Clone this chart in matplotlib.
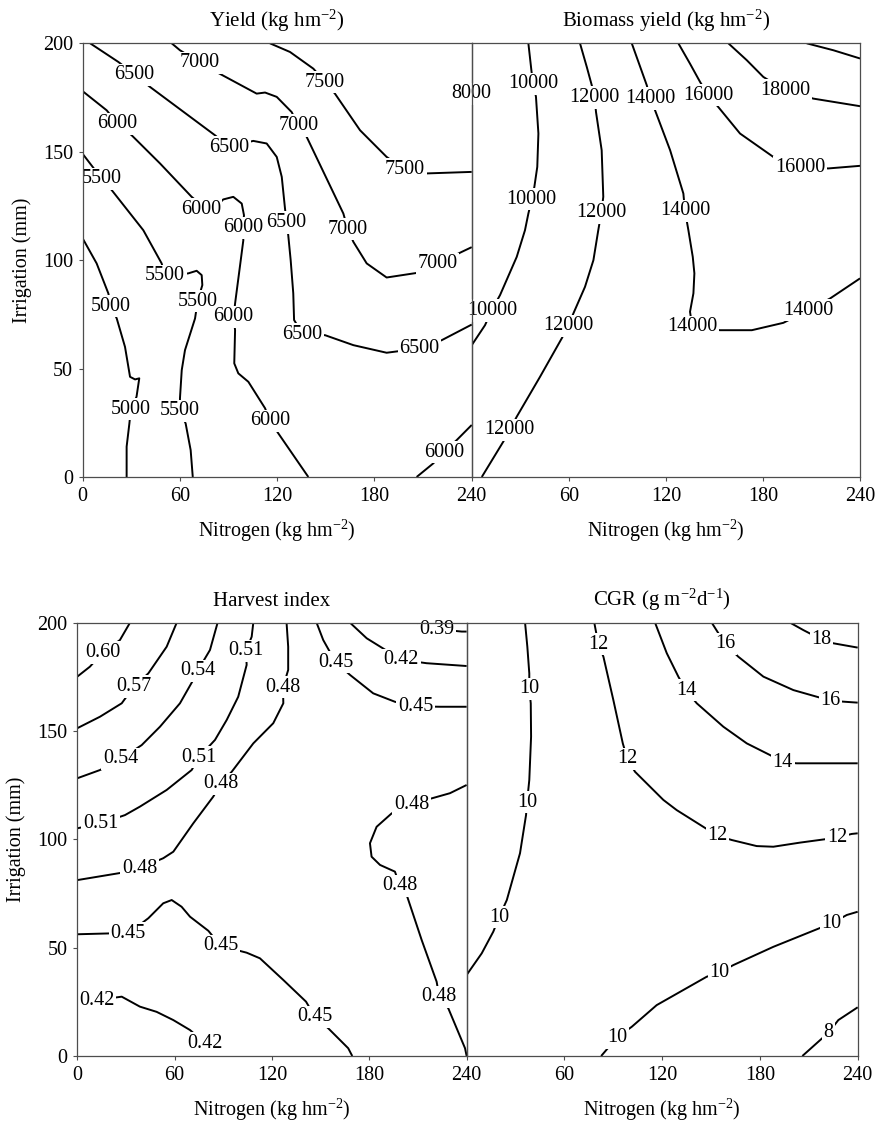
import matplotlib
matplotlib.use("Agg")
import matplotlib.pyplot as plt

plt.rcParams["font.family"] = ["Liberation Serif", "DejaVu Serif"]
plt.rcParams["mathtext.fontset"] = "custom"
plt.rcParams["mathtext.rm"] = "Liberation Serif"
plt.rcParams["mathtext.it"] = "Liberation Serif:italic"
plt.rcParams["mathtext.bf"] = "Liberation Serif:bold"

# contour lines: (level, nitrogen kg/hm2, irrigation mm)
YIELD_LINES = [
    (6500, [4.6, 22, 31.9, 41.5, 81.6, 90.4, 105.2, 113.5, 119.7, 122.8, 124.8, 125.8, 126.8, 128.3, 129.9, 130.4,
            135.7, 149.5, 167.0, 187.5, 208.0, 221.5, 240],
           [200, 191.4, 185.7, 179.9, 157.6, 152.2, 155.0, 153.8, 147.6, 138.4, 123.8, 117.4, 111.5, 100, 84.7, 72.4,
            65.9, 65.4, 60.8, 57.3, 59.3, 63.1, 70.3]),
    (7000, [54.9, 60, 72.4, 83.7, 107.3, 112.5, 119.7, 128.9, 133.0, 138.2, 160.8, 163.5, 167.0, 175.2, 187.5,
            206.0, 219.4, 233.8, 240],
           [200, 196.8, 191.1, 186.3, 176.8, 177.3, 175.3, 168.3, 162.2, 156.8, 121.5, 114.3, 108.4, 98.5, 92.0,
            94.1, 98.5, 103.8, 106]),
    (7500, [115.5, 127.9, 142.3, 149.5, 155.6, 171.1, 187.5, 198.8, 212.2, 240],
           [200, 196.0, 188.3, 182.2, 176.8, 159.9, 147.6, 141.8, 140.0, 140.7]),
    (6000, [0, 14.8, 21.4, 30.2, 47.7, 67.2, 74, 84, 86.7, 92.9, 98.1, 99.5, 98.7, 99.1, 97.5, 94.0, 93.1, 94.0,
            93.5, 96.0, 102.2, 112.5, 115.5, 120.7, 139.2],
           [177.9, 169.1, 163.0, 157.6, 144.6, 129.2, 125, 126, 128.0, 129.2, 126.1, 120.7, 115.0, 109.2, 100, 80,
            73.8, 67.7, 52.4, 47.8, 43.9, 31.7, 25.9, 20.1, 0]),
    (6000, [206.0, 216.3, 222.7, 230.7, 240], [0, 6.3, 11.5, 17.0, 24.0]),
    (5500, [0, 11.7, 17.9, 37.4, 48.7, 50.8, 65.1, 70.3, 73.4, 73.8, 70.9, 69.3, 63.1, 61.1, 60.0, 60.0, 63.5,
            66.6, 67.9],
           [149.0, 137.6, 132.3, 113.8, 98.5, 92.8, 93.9, 95.1, 93.1, 88.5, 81.1, 73.1, 58.5, 49.3, 36.3, 30.6, 24.7,
            12.4, 0]),
    (5000, [0, 8.6, 15.8, 17.5, 21.0, 26.1, 29.2, 32.3, 34.9, 33.2, 29.7, 28.8, 27.1, 27.1],
           [110, 98.5, 84.7, 78.8, 73.1, 60.0, 46.2, 45.0, 45.5, 37.0, 31.2, 24.7, 14.0, 0]),
]
YIELD_LABELS = [
    ("6500", 31.9, 185.5), ("6500", 90.4, 152.0), ("6500", 125.8, 117.4), ("6500", 135.6, 65.9),
    ("6500", 207.7, 59.2), ("7000", 72.4, 191.1), ("7000", 133.1, 162.1), ("7000", 163.5, 114.3),
    ("7000", 219.0, 98.4), ("7500", 149.4, 182.1), ("7500", 198.8, 141.8), ("6000", 21.5, 162.9),
    ("6000", 72.8, 123.5), ("6000", 98.7, 115.0), ("6000", 93.1, 73.8), ("6000", 115.5, 25.9),
    ("6000", 222.7, 11.5), ("5500", 11.7, 137.6), ("5500", 50.8, 92.8), ("5500", 70.9, 81.1),
    ("5500", 60.0, 30.6), ("5000", 17.5, 78.8), ("5000", 29.7, 31.2),
]

BIOMASS_LINES = [
    (8000, [0.3, 0.3], [192, 162]),
    (10000, [35.0, 37.1, 38.1, 39.7, 41.2, 40.5, 38.7, 37.1, 35.0, 32.9, 27.8, 17.5, 12.4, 8.2, 0],
            [200, 186.0, 181.4, 175.3, 158.4, 143.0, 133.8, 128.1, 121.5, 113.8, 101.5, 83.9, 77.0, 70.0, 60.8]),
    (12000, [66.9, 71.1, 74.2, 75.9, 76.8, 80.3, 81.3, 80.1, 78.2, 75.2, 70.0, 62.8, 59.7, 55.6, 42.2, 27.8, 23.5,
             19.5, 6.2],
            [200, 189.1, 180.6, 175.0, 168.3, 150.7, 129.2, 122.0, 113.8, 100, 87.7, 75.4, 69.7, 63.9, 46.2, 27.8,
             21.7, 16.3, 0]),
    (14000, [98.9, 108.2, 110.2, 113.3, 122.6, 130.8, 131.8, 133.9, 136.6, 137.6, 137.0, 134.9, 136.3, 153.5,
             173.1, 192.6, 208.0, 221.4, 240],
            [200, 180.6, 174.5, 169.1, 150.7, 130.7, 122.7, 113.8, 101.5, 93.9, 84.7, 76.2, 69.3, 67.7, 67.7, 71.1,
             77.0, 82.3, 91.6]),
    (16000, [127.7, 134.9, 141.1, 146.2, 152.4, 165.8, 186.4, 202.9, 220.4, 240],
            [200, 190.6, 182.2, 176.0, 170.6, 158.4, 147.6, 142.7, 142.3, 143.5]),
    (18000, [158.6, 170.0, 180.2, 193.6, 211.1, 240], [200, 192.2, 184.5, 178.3, 174.5, 171.0]),
    (20000, [207.0, 223.5, 240], [200, 196.8, 193.0]),
]
BIOMASS_LABELS = [
    ("8000", 0, 176.8), ("10000", 38.1, 181.4), ("10000", 37.1, 128.1), ("10000", 12.4, 76.8),
    ("12000", 75.9, 175.0), ("12000", 80.1, 122.0), ("12000", 59.7, 69.7), ("12000", 23.5, 21.7),
    ("14000", 110.2, 174.5), ("14000", 131.8, 122.7), ("14000", 136.3, 69.3), ("14000", 208.0, 77.0),
    ("16000", 146.2, 176.0), ("16000", 202.9, 142.7), ("18000", 193.6, 178.3),
]

HI_LINES = [
    (0.60, [32.5, 26.3, 15.6, 7.8, 0], [200, 192.0, 186.2, 179.7, 175.1]),
    (0.57, [61.3, 55.1, 43.8, 34.9, 27.4, 14.0, 0], [200, 188.9, 176.6, 170.5, 162.8, 156.6, 151.3]),
    (0.54, [86.5, 81.8, 74.2, 71.5, 63.3, 51.0, 39.7, 26.7, 14.0, 0],
           [200, 187.4, 177.8, 173.6, 162.8, 152.0, 143.5, 137.1, 132.0, 128.2]),
    (0.51, [108.5, 107.5, 104.0, 104.4, 99.2, 92.1, 84.9, 75.0, 70.5, 55.1, 38.6, 29.4, 14.4, 0],
           [200, 193.5, 187.1, 180.5, 165.8, 155.1, 145.9, 137.9, 132.0, 122.8, 115.1, 111.2, 107.4, 105.1]),
    (0.48, [129.0, 130.0, 130.0, 126.8, 127.0, 120.8, 108.5, 95.2, 88.4, 83.8, 71.5, 59.2, 53.0, 38.4, 27.4, 0],
           [200, 188.9, 178.2, 170.2, 162.8, 153.6, 144.3, 131.2, 125.6, 119.7, 107.4, 94.3, 91.3, 86.6, 84.6,
            81.2]),
    (0.48, [240, 229.7, 206.1, 193.8, 184.5, 180.4, 181.4, 186.6, 195.8, 198.9, 203.4, 212.3, 221.5, 223.1, 228.7,
            239.0, 240],
           [125.1, 121.3, 116.3, 112.0, 105.8, 98.2, 92.0, 88.2, 85.1, 78.5, 73.5, 53.5, 34.3, 27.4, 22.0, 3.6, 0]),
    (0.45, [147.5, 151.6, 159.3, 168.1, 182.4, 195.8, 208.6, 223.6, 240],
           [200, 192.0, 181.7, 175.9, 167.4, 163.5, 161.4, 161.2, 161.2]),
    (0.42, [168.1, 178.4, 199.7, 215.3, 240], [200, 192.8, 182.9, 181.3, 180.0]),
    (0.39, [209.2, 221.9, 237.0, 240], [200, 197.0, 195.9, 195.9]),
    (0.45, [0, 20.2, 31.5, 43.8, 53.0, 58.2, 64.3, 69.5, 80.8, 88.4, 104.4, 112.6, 127.0, 141.0, 146.5, 154.7,
            167.0, 169.5],
           [56.2, 56.6, 56.6, 63.6, 70.5, 72.0, 68.9, 64.3, 57.8, 50.8, 47.7, 45.1, 35.1, 25.1, 18.1, 12.8, 3.6, 0]),
    (0.42, [0, 11.9, 27.4, 38.6, 48.9, 59.2, 69.5, 78.7], [27.0, 25.8, 27.4, 22.8, 20.4, 16.6, 12.0, 6.0]),
]
HI_LABELS = [
    ("0.60", 15.6, 186.2), ("0.57", 34.9, 170.5), ("0.54", 74.2, 177.8), ("0.51", 104.0, 187.1),
    ("0.48", 126.8, 170.2), ("0.45", 159.3, 181.7), ("0.42", 199.7, 182.9), ("0.39", 221.9, 197.0),
    ("0.45", 208.6, 161.4), ("0.54", 26.7, 137.1), ("0.51", 75.0, 137.9), ("0.48", 88.4, 125.6),
    ("0.48", 206.1, 116.3), ("0.51", 14.4, 107.4), ("0.48", 38.4, 86.6), ("0.48", 198.9, 78.5),
    ("0.45", 31.5, 56.6), ("0.45", 88.4, 50.8), ("0.45", 146.5, 18.1), ("0.48", 223.1, 27.4),
    ("0.42", 11.9, 25.8), ("0.42", 78.7, 6.0),
]

CGR_LINES = [
    (10, [35.8, 37.2, 38.4, 38.4, 39.3, 39.5, 38.4, 37.0, 36.4, 32.7, 24.6, 19.8, 16.3, 9.2, 0],
         [200, 188.9, 176.6, 169.4, 162.8, 147.4, 127.4, 117.1, 111.2, 93.6, 72.0, 64.0, 57.4, 47.4, 37.5]),
    (12, [78.3, 80.8, 83.9, 90.0, 95.8, 98.6, 103.3, 120.7, 128.9, 145.2, 153.9, 162.7, 178.0, 188.2, 204.6,
          227.3, 236.3, 240],
         [200, 190.0, 184.3, 164.3, 144.3, 137.1, 131.2, 118.2, 113.5, 105.8, 101.7, 99.7, 96.9, 96.6, 98.5, 100.8,
          102.5, 102.8]),
    (14, [115.6, 122.8, 129.9, 134.6, 141.2, 157.5, 171.9, 186.2, 194.0, 202.6, 240],
         [200, 185.9, 175.1, 168.8, 162.8, 152.0, 144.3, 138.9, 135.6, 135.1, 135.1]),
    (16, [150.4, 158.6, 166.7, 182.1, 200.5, 223.4, 232.2, 240], [200, 190.2, 184.3, 175.1, 168.9, 164.0, 163.5, 163.1]),
    (18, [198.5, 206.6, 217.7, 225.0, 240], [200, 196.6, 192.3, 190.5, 188.5]),
    (10, [82.5, 92.3, 101.3, 116.6, 147.3, 155.1, 163.7, 188.2, 223.8, 233.3, 240],
         [0, 8.6, 13.5, 23.5, 36.6, 38.5, 42.0, 50.4, 61.2, 65.1, 66.6]),
    (8, [206.0, 222.2, 228.1, 240], [0, 10.9, 16.6, 22.5]),
]
CGR_LABELS = [
    ("10", 38.4, 169.4), ("10", 37.0, 117.1), ("10", 19.8, 64.0), ("12", 80.8, 190.0), ("12", 98.6, 137.1),
    ("12", 153.9, 101.7), ("12", 227.3, 100.8), ("14", 134.6, 168.8), ("14", 194.0, 135.6),
    ("16", 158.6, 190.2), ("16", 223.4, 164.0), ("18", 217.7, 192.3), ("10", 155.1, 38.5),
    ("10", 223.8, 61.2), ("10", 92.3, 8.6), ("8", 222.2, 10.9),
]

TITLES = ["Yield (kg hm$^{-2}$)", "Biomass yield (kg hm$^{-2}$)", "Harvest index", "CGR (g m$^{-2}$d$^{-1}$)"]
XLABEL = "Nitrogen (kg hm$^{-2}$)"
YLABEL = "Irrigation (mm)"

FS = 14.5
SPINE = "#4d4d4d"


def draw_panel(ax, lines, labels, title, left):
    for _, xs, ys in lines:
        ax.plot(xs, ys, color="black", lw=1.4, zorder=2, solid_capstyle="butt", solid_joinstyle="round")
    # white patches first (cut the lines), then the numbers on top so close labels never hide each other
    for txt, x, y in labels:
        ax.text(x, y, txt, ha="center", va="center", fontsize=FS, zorder=2.2, color="white",
                bbox=dict(boxstyle="square,pad=0.08", fc="white", ec="none"))
    for txt, x, y in labels:
        ax.text(x, y, txt, ha="center", va="center", fontsize=FS, zorder=2.3)
    ax.set_xlim(0, 240)
    ax.set_ylim(0, 200)
    ax.set_facecolor("none")
    for s in ax.spines.values():
        s.set_color(SPINE)
        s.set_linewidth(0.9)
    ax.tick_params(direction="out", length=3, width=0.8, color=SPINE, labelsize=FS, pad=4)
    ax.set_title(title, fontsize=FS + 0.5, pad=12)
    ax.set_xlabel(XLABEL, fontsize=FS, labelpad=9)
    if left:
        ax.set_xticks([0, 60, 120, 180, 240])
        ax.set_yticks([0, 50, 100, 150, 200])
        ax.set_ylabel(YLABEL, fontsize=FS, labelpad=8)
    else:
        ax.set_xticks([60, 120, 180, 240])
        ax.set_yticks([])


fig = plt.figure(figsize=(8.77, 11.25), dpi=100)
ax1 = fig.add_axes([0.0943, 0.576, 0.4436, 0.3855])
ax2 = fig.add_axes([0.5379, 0.576, 0.4428, 0.3855])
ax3 = fig.add_axes([0.0881, 0.0613, 0.4440, 0.3852])
ax4 = fig.add_axes([0.5322, 0.0613, 0.4458, 0.3852])

draw_panel(ax1, YIELD_LINES, YIELD_LABELS, TITLES[0], True)
draw_panel(ax2, BIOMASS_LINES, BIOMASS_LABELS, TITLES[1], False)
draw_panel(ax3, HI_LINES, HI_LABELS, TITLES[2], True)
draw_panel(ax4, CGR_LINES, CGR_LABELS, TITLES[3], False)

fig.savefig("out.png", dpi=100, facecolor="white")
